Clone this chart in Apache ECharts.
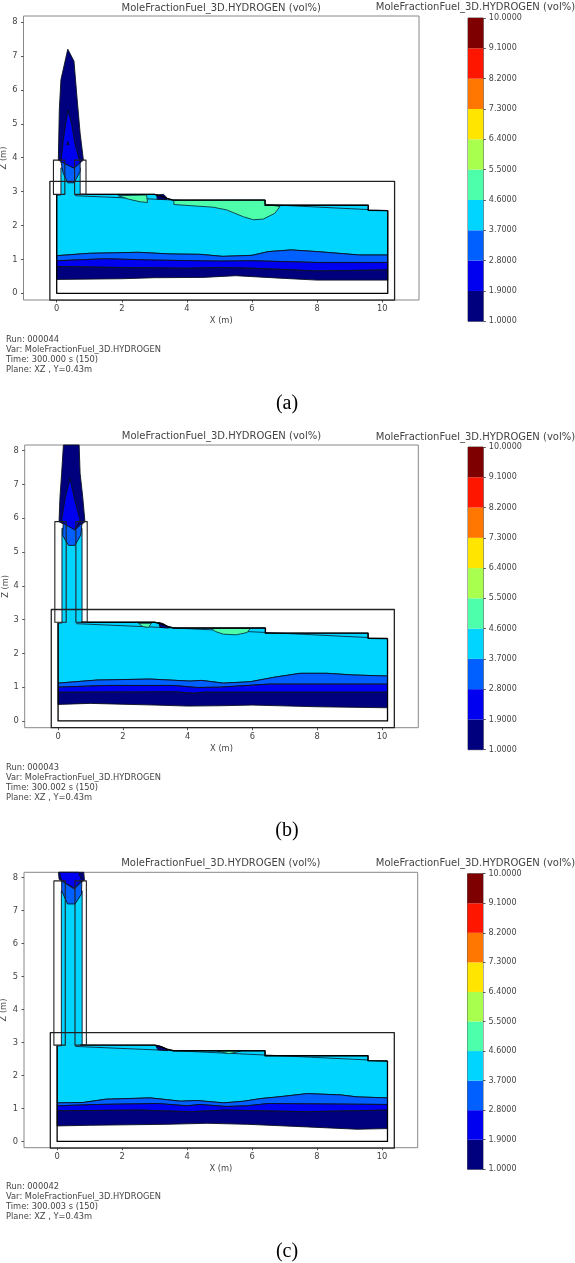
<!DOCTYPE html>
<html lang="en">
<head>
    <meta charset="UTF-8">
    <title>Hydrogen mole fraction contours</title>
    <script src='https://cdn.jsdelivr.net/npm/echarts@6/dist/echarts.min.js'></script>
</head>
<body style="margin: 0; background: #fff">
<div id="chart" style="width: 575px;height: 1263px;filter: blur(0.4px)"></div>

<script>
    // colorbar
    let levels = [1.0, 1.9, 2.8, 3.7, 4.6, 5.5, 6.4, 7.3, 8.2, 9.1, 10.0];
    let levelColors = ['#00007f', '#0000f1', '#0060ff', '#00d5ff', '#4dffaa',
                       '#a9ff4d', '#ffe500', '#ff7700', '#ff1600', '#7f0000'];
    let xTicks = [0, 2, 4, 6, 8, 10];
    let zTicks = [0, 1, 2, 3, 4, 5, 6, 7, 8];

    // geometry shared by all three runs, [x, z] in metres
    let ceiling = [[10.17, 2.44], [9.57, 2.45], [9.57, 2.6], [6.4, 2.6], [6.4, 2.75], [3.58, 2.75],
                   [3.38, 2.8], [3.2, 2.87], [3.0, 2.92], [0.72, 2.92]];
    let slope = [[0.56, 2.88], [3.4, 2.76], [6.4, 2.62], [9.57, 2.47]];
    let outerBox = [[-0.21, -0.2], [10.38, -0.2], [10.38, 3.3], [-0.21, 3.3]];
    let wallLeft = [-0.1, 0.25];
    let wallRight = [0.55, 0.9];
    let wallBottom = 2.92;

    // run 000044
    let aBottom = [[0, 0.41], [2, 0.43], [3, 0.46], [4.5, 0.47], [5.5, 0.52], [7, 0.44], [8, 0.39], [10.17, 0.39]];
    let aNavyTop = [[0, 0.79], [2, 0.76], [4, 0.74], [5, 0.76], [6, 0.74], [8, 0.66], [10.17, 0.69]];
    let aBlueTop = [[0, 0.96], [1.5, 1.02], [3, 0.98], [5, 0.95], [6, 0.96], [8, 0.91], [10.17, 0.91]];
    let aMidTop = [[0, 1.11], [1, 1.18], [2.5, 1.21], [3.5, 1.16], [4.4, 1.15], [5.1, 1.09], [6, 1.12],
                   [6.5, 1.23], [7.2, 1.28], [8, 1.23], [9.3, 1.13], [10.17, 1.13]];
    let aPlumeNavy = [[0.34, 7.2], [0.53, 6.85], [0.63, 5.7], [0.72, 4.72], [0.82, 3.93], [0.53, 3.69],
                      [0.05, 3.93], [0.08, 5.4], [0.13, 6.3]];
    let aPlumeBlue = [[0.34, 5.41], [0.46, 5.0], [0.56, 4.42], [0.72, 3.85], [0.53, 3.69], [0.13, 3.88], [0.2, 4.5]];
    let aPlumeDot = [[0.34, 4.48], [0.37, 4.38], [0.31, 4.38]];
    let aPlumeMid = [[0.13, 3.88], [0.53, 3.69], [0.72, 3.85], [0.72, 3.59], [0.53, 3.26], [0.34, 3.26], [0.2, 3.54]];
    let aGreen = [
        [[1.89, 2.88], [2.76, 2.9], [2.79, 2.68], [2.56, 2.7], [2.2, 2.78]],
        [[3.6, 2.74], [6.4, 2.75], [6.4, 2.63], [6.86, 2.56], [6.7, 2.36], [6.35, 2.19], [6.04, 2.17],
         [5.73, 2.26], [5.22, 2.46], [4.81, 2.54], [4.2, 2.58], [3.6, 2.62]]
    ];
    let aPatch = [[3.07, 2.9], [3.28, 2.92], [3.38, 2.83], [3.38, 2.77], [3.09, 2.78]];

    // run 000043
    let bBottom = [[0, 0.49], [1, 0.52], [3, 0.47], [4, 0.44], [5, 0.45], [6, 0.47], [8, 0.42], [10.17, 0.39]];
    let bNavyTop = [[0, 0.85], [3.6, 0.86], [4.2, 0.82], [4.5, 0.85], [10.17, 0.85]];
    let bBlueTop = [[0, 1.0], [1.5, 1.05], [3.56, 1.05], [4.3, 0.99], [5, 1.0], [5.5, 1.03], [6.5, 1.09], [10.17, 1.09]];
    let bMidTop = [[0, 1.12], [1.19, 1.21], [2.84, 1.24], [4.07, 1.18], [4.43, 1.2], [5.1, 1.12], [5.93, 1.16],
                   [6.65, 1.29], [7.47, 1.41], [8.3, 1.41], [9.12, 1.36], [10.17, 1.33]];
    let bPlumeNavy = [[0.165, 8.17], [0.65, 8.17], [0.68, 7.33], [0.76, 6.64], [0.83, 5.9], [0.52, 5.65],
                      [0.03, 5.9], [0.06, 6.64], [0.11, 7.33]];
    let bPlumeBlue = [[0.37, 7.18], [0.5, 6.6], [0.68, 5.95], [0.52, 5.65], [0.16, 5.85], [0.11, 5.95], [0.22, 6.6]];
    let bPlumeMid = [[0.16, 5.85], [0.52, 5.65], [0.74, 5.85], [0.7, 5.5], [0.52, 5.2], [0.32, 5.2], [0.14, 5.5]];
    let bGreen = [
        [[2.48, 2.89], [2.88, 2.89], [2.79, 2.77], [2.62, 2.79]],
        [[4.74, 2.74], [5.93, 2.74], [5.84, 2.62], [5.5, 2.55], [5.1, 2.57], [4.85, 2.65]]
    ];
    let bPatch = [[3.1, 2.92], [3.25, 2.88], [3.41, 2.78], [3.41, 2.75], [3.15, 2.77]];

    // run 000042
    let cBottom = [[0, 0.47], [1.02, 0.49], [3.38, 0.52], [4.62, 0.55], [5.85, 0.52], [7.7, 0.44], [9.24, 0.37], [10.17, 0.39]];
    let cNavyTop = [[0, 0.93], [2.56, 0.95], [4.1, 0.9], [5.13, 0.95], [7.7, 0.9], [10.17, 0.95]];
    let cBlueTop = [[0, 1.08], [1.23, 1.12], [3.1, 1.15], [4, 1.08], [4.4, 1.12], [5.2, 1.06], [5.85, 1.08],
                    [6.5, 1.15], [10.17, 1.12]];
    let cMidTop = [[0, 1.17], [0.8, 1.18], [1.5, 1.28], [2.87, 1.32], [3.8, 1.22], [4.3, 1.24], [5.13, 1.17],
                   [5.75, 1.22], [6.27, 1.3], [6.8, 1.35], [7.7, 1.45], [8.73, 1.41], [9.24, 1.35], [10.17, 1.32]];
    let cPlumeNavy = [[0.04, 8.16], [0.82, 8.16], [0.84, 7.92], [0.76, 7.88], [0.53, 7.68], [0.14, 7.9], [0.06, 7.95]];
    let cPlumeBlue = [[0.07, 8.16], [0.66, 8.16], [0.76, 7.9], [0.53, 7.68], [0.14, 7.9]];
    let cPlumeMid = [[0.14, 7.9], [0.53, 7.65], [0.76, 7.88], [0.75, 7.5], [0.55, 7.2], [0.32, 7.2], [0.14, 7.6]];
    let cGreen = [
        [[4.92, 2.74], [5.65, 2.74], [5.3, 2.66]]
    ];
    let cPatch = [[3.03, 2.92], [3.2, 2.88], [3.4, 2.78], [3.4, 2.75], [3.1, 2.78]];

    let metaLines = {
        a: ['Run: 000044', 'Var: MoleFractionFuel_3D.HYDROGEN', 'Time: 300.000 s (150)', 'Plane: XZ , Y=0.43m'],
        b: ['Run: 000043', 'Var: MoleFractionFuel_3D.HYDROGEN', 'Time: 300.002 s (150)', 'Plane: XZ , Y=0.43m'],
        c: ['Run: 000042', 'Var: MoleFractionFuel_3D.HYDROGEN', 'Time: 300.003 s (150)', 'Plane: XZ , Y=0.43m']
    };
    let chartTitle = 'MoleFractionFuel_3D.HYDROGEN (vol%)';

    // pixel layout of the three rows
    let panels = [
        {
            key: 'a', caption: '(a)',
            plot: {left: 23.5, top: 16, width: 395.5, height: 284}, xRange: [-1.02, 11.13], zRange: [-0.197, 8.18],
            bar: {left: 468, top: 18, width: 15.3, height: 303.3},
            titleY: 8, barTitleY: 7, metaY: 340, captionY: 404, zNameX: 4,
            curves: [aBottom, aNavyTop, aBlueTop, aMidTop], plume: [aPlumeNavy, aPlumeBlue, aPlumeDot, aPlumeMid],
            green: aGreen, patch: aPatch, channel: [0.13, 0.72, 3.7], ventTop: 3.93
        },
        {
            key: 'b', caption: '(b)',
            plot: {left: 24.7, top: 445, width: 393.6, height: 282.7}, xRange: [-1.03, 11.12], zRange: [-0.2, 8.17],
            bar: {left: 468, top: 447, width: 15.3, height: 302.7},
            titleY: 436, barTitleY: 437, metaY: 768, captionY: 831, zNameX: 6,
            curves: [bBottom, bNavyTop, bBlueTop, bMidTop], plume: [bPlumeNavy, bPlumeBlue, bPlumeMid],
            green: bGreen, patch: bPatch, channel: [0.12, 0.74, 5.7], ventTop: 5.9
        },
        {
            key: 'c', caption: '(c)',
            plot: {left: 24, top: 872.3, width: 393.7, height: 275.4}, xRange: [-1.02, 11.1], zRange: [-0.19, 8.16],
            bar: {left: 467.5, top: 873.7, width: 15.5, height: 295.6},
            titleY: 863, barTitleY: 863, metaY: 1187, captionY: 1252, zNameX: 4,
            curves: [cBottom, cNavyTop, cBlueTop, cMidTop], plume: [cPlumeNavy, cPlumeBlue, cPlumeMid],
            green: cGreen, patch: cPatch, channel: [0.13, 0.77, 7.6], ventTop: 7.9
        }
    ];

    function band(lower, upper) {
        return lower.concat(upper.slice().reverse());
    }

    function rect(x0, x1, z0, z1) {
        return [[x0, z0], [x1, z0], [x1, z1], [x0, z1]];
    }

    // painter's order: contour fills first, outlines of the geometry on top
    function buildShapes(p) {
        let list = [];
        let add = (pts, fill, stroke, width, closed) => list.push({pts, fill, stroke, width, closed});
        let [bottom, navyTop, blueTop, midTop] = p.curves;
        let [chLeft, chRight, chTop] = p.channel;
        let edge = '#0a1020';

        let cyan = midTop.concat(ceiling, [[chRight, 2.92], [chRight, chTop], [chLeft, chTop], [chLeft, 2.9], [0, 2.9]]);
        add(cyan, levelColors[3], edge, 0.9, true);
        add(band(blueTop, midTop), levelColors[2], edge, 0.9, true);
        add(band(navyTop, blueTop), levelColors[1], edge, 0.9, true);
        add(band(bottom, navyTop), levelColors[0], edge, 0.9, true);
        add(slope, null, '#0b2a40', 0.9, false);

        let plumeFills = p.plume.length === 4 ? [0, 1, 0, 2] : [0, 1, 2];
        p.plume.forEach((pts, i) => add(pts, levelColors[plumeFills[i]], edge, 0.9, true));
        p.green.forEach(pts => add(pts, levelColors[4], '#0b3a40', 0.9, true));
        add(p.patch, levelColors[0], edge, 0.9, true);

        add(ceiling, null, '#000', 1.4, false);
        add([[0, 2.9], [0, 0], [10.17, 0], [10.17, 2.44]], null, '#000', 1.3, false);
        add(outerBox, null, '#222', 1.3, true);
        add(rect(wallLeft[0], wallLeft[1], wallBottom, p.ventTop), null, '#222', 1.1, true);
        add(rect(wallRight[0], wallRight[1], wallBottom, p.ventTop), null, '#222', 1.1, true);
        return list;
    }

    let fontFamily = 'DejaVu Sans';
    let textColor = '#444';
    let grids = [], xAxes = [], yAxes = [], series = [], titles = [];

    function addText(text, left, top, align, font) {
        titles.push({
            text: text, left: left, top: top, textAlign: align, textVerticalAlign: 'middle', padding: 0,
            textStyle: Object.assign({color: textColor, fontWeight: 'normal', fontFamily: fontFamily, fontSize: 10}, font)
        });
    }

    panels.forEach(p => {
        // contour plot
        let shapes = buildShapes(p);
        let gridIndex = grids.length;
        grids.push(Object.assign({show: true, borderColor: '#888', borderWidth: 1, containLabel: false}, p.plot));
        xAxes.push({
            gridIndex: gridIndex, type: 'value', min: p.xRange[0], max: p.xRange[1], splitLine: {show: false},
            axisLine: {show: false, onZero: false}, axisTick: {length: 2.5, lineStyle: {color: '#555'}, customValues: xTicks},
            axisLabel: {customValues: xTicks, margin: 5, fontSize: 8.3, color: textColor, fontFamily: fontFamily}
        });
        yAxes.push({
            gridIndex: gridIndex, type: 'value', min: p.zRange[0], max: p.zRange[1], splitLine: {show: false},
            axisLine: {show: false, onZero: false}, axisTick: {length: 2.5, lineStyle: {color: '#555'}, customValues: zTicks},
            axisLabel: {customValues: zTicks, margin: 6, fontSize: 8.3, color: textColor, fontFamily: fontFamily}
        });
        series.push({
            type: 'custom', xAxisIndex: gridIndex, yAxisIndex: gridIndex, silent: true, animation: false,
            data: shapes.map((s, i) => [i]),
            encode: {x: -1, y: -1},
            renderItem: function (params, api) {
                let s = shapes[params.dataIndex];
                return {
                    type: s.closed ? 'polygon' : 'polyline',
                    shape: {points: s.pts.map(pt => api.coord(pt))},
                    style: {fill: s.fill || 'none', stroke: s.stroke, lineWidth: s.width, lineJoin: 'round'}
                };
            }
        });

        // colorbar
        let barIndex = grids.length;
        grids.push(Object.assign({show: true, borderColor: '#333', borderWidth: 0.8}, p.bar));
        xAxes.push({gridIndex: barIndex, type: 'value', min: 0, max: 1, show: false});
        yAxes.push({
            gridIndex: barIndex, type: 'value', position: 'right', min: levels[0], max: levels[levels.length - 1],
            splitLine: {show: false}, axisLine: {show: false, onZero: false},
            axisTick: {length: 2.5, lineStyle: {color: '#555'}, customValues: levels},
            axisLabel: {
                customValues: levels, margin: 5.5, fontSize: 8, color: textColor, fontFamily: fontFamily,
                formatter: value => value.toFixed(4)
            }
        });
        series.push({
            type: 'custom', xAxisIndex: barIndex, yAxisIndex: barIndex, silent: true, animation: false,
            data: levelColors.map((c, i) => [i]),
            encode: {x: -1, y: -1},
            renderItem: function (params, api) {
                let i = params.dataIndex;
                let a = api.coord([0, levels[i]]);
                let b = api.coord([1, levels[i + 1]]);
                return {
                    type: 'rect',
                    shape: {x: a[0], y: b[1], width: b[0] - a[0], height: a[1] - b[1]},
                    style: {fill: levelColors[i]}
                };
            }
        });

        // texts around the plot
        addText(chartTitle, p.plot.left + p.plot.width / 2, p.titleY, 'center');
        addText(chartTitle, 475.5, p.barTitleY, 'center');
        addText('X (m)', p.plot.left + p.plot.width / 2, p.plot.top + p.plot.height + 21, 'center', {fontSize: 8.3});
        metaLines[p.key].forEach((line, i) => addText(line, 6, p.metaY + i * 10, 'left', {fontSize: 8.3}));
        addText(p.caption, 287, p.captionY, 'center', {color: '#000', fontSize: 20, fontFamily: 'Liberation Serif'});
    });

    let chart = echarts.init(document.getElementById('chart'), null, {width: 575, height: 1263});
    chart.setOption({
        animation: false,
        backgroundColor: '#fff',
        title: titles,
        graphic: panels.map(p => ({
            type: 'text', x: p.zNameX, y: p.plot.top + p.plot.height * 0.5, rotation: Math.PI / 2, silent: true,
            style: {
                text: 'Z (m)', fontSize: 8.3, fontFamily: fontFamily, fill: textColor,
                textAlign: 'center', textVerticalAlign: 'middle'
            }
        })),
        grid: grids,
        xAxis: xAxes,
        yAxis: yAxes,
        series: series
    });
</script>
</body>
</html>
